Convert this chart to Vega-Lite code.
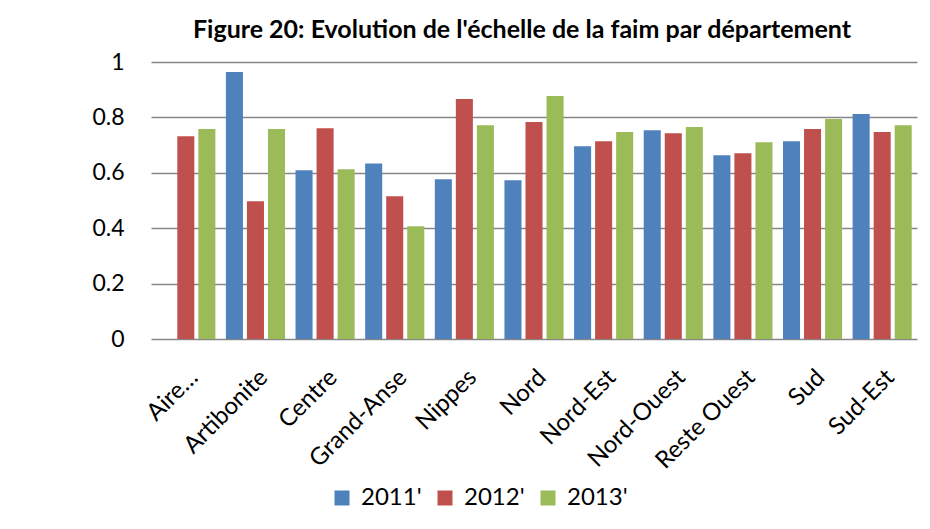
{
  "$schema": "https://vega.github.io/schema/vega-lite/v6.json",
  "autosize": "none",
  "width": 766,
  "height": 277,
  "padding": {"left": 151, "top": 62, "right": 13, "bottom": 190},
  "background": "white",
  "title": {
    "text": "Figure 20: Evolution de l'échelle de la faim par département",
    "font": "Lato",
    "fontSize": 25,
    "fontWeight": "bold",
    "color": "black",
    "anchor": "middle",
    "frame": "group",
    "baseline": "alphabetic",
    "offset": 20,
    "dy": 32,
    "dx": -12
  },
  "data": {
    "values": [
      {"dep": "Aire…", "year": "2012'", "value": 0.732},
      {"dep": "Aire…", "year": "2013'", "value": 0.758},
      {"dep": "Artibonite", "year": "2011'", "value": 0.964},
      {"dep": "Artibonite", "year": "2012'", "value": 0.497},
      {"dep": "Artibonite", "year": "2013'", "value": 0.758},
      {"dep": "Centre", "year": "2011'", "value": 0.609},
      {"dep": "Centre", "year": "2012'", "value": 0.761},
      {"dep": "Centre", "year": "2013'", "value": 0.613},
      {"dep": "Grand-Anse", "year": "2011'", "value": 0.634},
      {"dep": "Grand-Anse", "year": "2012'", "value": 0.515},
      {"dep": "Grand-Anse", "year": "2013'", "value": 0.407},
      {"dep": "Nippes", "year": "2011'", "value": 0.577},
      {"dep": "Nippes", "year": "2012'", "value": 0.866},
      {"dep": "Nippes", "year": "2013'", "value": 0.772},
      {"dep": "Nord", "year": "2011'", "value": 0.573},
      {"dep": "Nord", "year": "2012'", "value": 0.783},
      {"dep": "Nord", "year": "2013'", "value": 0.877},
      {"dep": "Nord-Est", "year": "2011'", "value": 0.696},
      {"dep": "Nord-Est", "year": "2012'", "value": 0.714},
      {"dep": "Nord-Est", "year": "2013'", "value": 0.747},
      {"dep": "Nord-Ouest", "year": "2011'", "value": 0.754},
      {"dep": "Nord-Ouest", "year": "2012'", "value": 0.743},
      {"dep": "Nord-Ouest", "year": "2013'", "value": 0.765},
      {"dep": "Reste Ouest", "year": "2011'", "value": 0.663},
      {"dep": "Reste Ouest", "year": "2012'", "value": 0.671},
      {"dep": "Reste Ouest", "year": "2013'", "value": 0.710},
      {"dep": "Sud", "year": "2011'", "value": 0.714},
      {"dep": "Sud", "year": "2012'", "value": 0.758},
      {"dep": "Sud", "year": "2013'", "value": 0.794},
      {"dep": "Sud-Est", "year": "2011'", "value": 0.812},
      {"dep": "Sud-Est", "year": "2012'", "value": 0.747},
      {"dep": "Sud-Est", "year": "2013'", "value": 0.772}
    ]
  },
  "mark": {"type": "bar"},
  "encoding": {
    "x": {
      "field": "dep",
      "type": "nominal",
      "sort": null,
      "scale": {"paddingInner": 0, "paddingOuter": 0},
      "axis": {
        "title": null,
        "labelAngle": -45,
        "labelFont": "Lato",
        "labelFontSize": 24,
        "labelColor": "black",
        "labelPadding": 26,
        "ticks": false,
        "domain": false,
        "grid": false
      }
    },
    "xOffset": {
      "field": "year",
      "type": "nominal",
      "scale": {"domain": ["2011'", "2012'", "2013'"], "paddingInner": 0.19, "paddingOuter": 0.25}
    },
    "y": {
      "field": "value",
      "type": "quantitative",
      "scale": {"domain": [0, 1], "nice": false},
      "axis": {
        "title": null,
        "values": [0, 0.2, 0.4, 0.6, 0.8, 1],
        "format": "~g",
        "labelFont": "Lato",
        "labelFontSize": 23,
        "labelColor": "black",
        "labelPadding": 27,
        "ticks": false,
        "domain": false,
        "grid": true,
        "gridColor": "#868686",
        "gridWidth": 1.5
      }
    },
    "color": {
      "field": "year",
      "type": "nominal",
      "scale": {"domain": ["2011'", "2012'", "2013'"], "range": ["#4F81BD", "#C0504D", "#9BBB59"]},
      "legend": {
        "title": null,
        "orient": "none",
        "direction": "horizontal",
        "legendX": 179,
        "legendY": 424,
        "symbolType": "square",
        "symbolSize": 225,
        "symbolStrokeWidth": 0,
        "labelFont": "Lato",
        "labelFontSize": 24,
        "labelColor": "black",
        "labelOffset": 7,
        "columnPadding": 11
      }
    }
  },
  "config": {
    "view": {"stroke": null}
  }
}
